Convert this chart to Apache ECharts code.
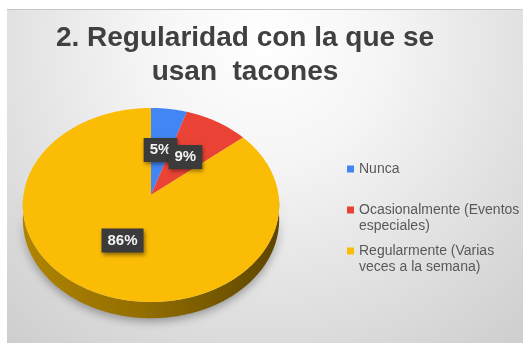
<!DOCTYPE html>
<html>
<head>
<meta charset="utf-8">
<script src="https://cdn.jsdelivr.net/npm/echarts@6/dist/echarts.min.js"></script>
<style>
  html, body { margin: 0; padding: 0; background: #ffffff; }
  #chart { width: 527px; height: 343px; }
</style>
</head>
<body>
<div id="chart"></div>
<script>
// Survey answers: how often high heels are worn
const categories = [
  'Nunca',
  'Ocasionalmente (Eventos\nespeciales)',
  'Regularmente (Varias\nveces a la semana)'
];
const shares = [5, 9, 86];
const sliceColors = ['#4285F4', '#EA4335', '#FBBC05'];
const titleText = '2. Regularidad con la que se\nusan  tacones';

const FONT = '"Liberation Sans", Arial, Helvetica, sans-serif';
const total = shares.reduce((s, v) => s + v, 0);

// Tilted disc seen with a little perspective: a/b are the half axes,
// p the perspective strength, depth the thickness of the rim.
const disc = { cx: 151, cy: 195, a: 127.5, b: 96, p: 0.103, depth: 14.5 };

function project(theta, f, drop) {
  const u = f * Math.sin(theta);
  const v = -f * Math.cos(theta);
  const k = 1 - disc.p * v;
  return [disc.cx + disc.a * u / k, disc.cy + (disc.b * v + (drop || 0)) / k];
}

function arcPoints(t0, t1, f, drop) {
  const pts = [];
  const n = Math.max(2, Math.ceil((t1 - t0) / (Math.PI / 360)));
  for (let i = 0; i <= n; i++) {
    pts.push(project(t0 + (t1 - t0) * i / n, f, drop));
  }
  return pts;
}

function makeRenderer(idx) {
  return function (params, api) {
    const value = api.value(0);
    const before = shares.slice(0, idx).reduce((s, v) => s + v, 0);
    const t0 = before / total * Math.PI * 2;
    const t1 = (before + value) / total * Math.PI * 2;
    const children = [];

    // visible rim: the front half of the disc
    const s0 = Math.max(t0, Math.PI / 2);
    const s1 = Math.min(t1, Math.PI * 3 / 2);
    if (s1 > s0) {
      const topEdge = arcPoints(s0, s1, 1, 0);
      const bottomEdge = arcPoints(s0, s1, 1, disc.depth).reverse();
      children.push({
        type: 'polygon',
        z2: 1,
        shape: { points: topEdge.concat(bottomEdge) },
        style: {
          fill: new echarts.graphic.LinearGradient(
            disc.cx - disc.a, 0, disc.cx + disc.a, 0,
            [
              { offset: 0, color: '#b08400' },
              { offset: 0.45, color: '#946f00' },
              { offset: 1, color: '#5e4600' }
            ],
            true
          ),
          shadowBlur: 10,
          shadowColor: 'rgba(0,0,0,0.35)',
          shadowOffsetY: 3
        }
      });
    }

    // top face of the slice
    children.push({
      type: 'polygon',
      z2: 2,
      shape: { points: [project(0, 0, 0)].concat(arcPoints(t0, t1, 1, 0)) },
      style: { fill: sliceColors[idx] }
    });

    // percentage label in a dark box
    const mid = (t0 + t1) / 2;
    const pos = project(mid, 0.5, 0);
    children.push({
      type: 'text',
      z2: 10 + idx,
      x: pos[0],
      y: pos[1],
      style: {
        text: Math.round(value / total * 100) + '%',
        fill: '#f4f4f4',
        font: 'bold 15px ' + FONT,
        align: 'center',
        verticalAlign: 'middle',
        backgroundColor: '#3b3b3b',
        padding: [4, 6, 3, 6],
        lineHeight: 17,
        shadowBlur: 4,
        shadowColor: 'rgba(0,0,0,0.45)',
        shadowOffsetX: 1,
        shadowOffsetY: 2
      }
    });

    return { type: 'group', children: children };
  };
}

const chart = echarts.init(document.getElementById('chart'), null, { renderer: 'canvas' });

chart.setOption({
  animation: false,
  backgroundColor: '#ffffff',
  graphic: [
    {
      type: 'rect',
      z: -10,
      silent: true,
      shape: { x: 7, y: 9, width: 516, height: 334 },
      style: {
        fill: new echarts.graphic.RadialGradient(0.5, 0.1, 1.2, [
          { offset: 0, color: '#ffffff' },
          { offset: 0.3, color: '#f5f5f5' },
          { offset: 1, color: '#cdcdcd' }
        ])
      }
    },
    {
      type: 'line',
      z: -9,
      silent: true,
      shape: { x1: 7, y1: 9.5, x2: 522, y2: 9.5 },
      style: { stroke: '#c8c8c8', lineWidth: 1 }
    }
  ],
  title: {
    text: titleText,
    left: 245,
    top: 21,
    padding: 0,
    textAlign: 'center',
    textStyle: {
      fontFamily: FONT,
      fontSize: 28,
      fontWeight: 'bold',
      color: '#404040',
      lineHeight: 34
    }
  },
  legend: {
    orient: 'vertical',
    left: 347,
    top: 145,
    padding: 0,
    icon: 'rect',
    itemWidth: 7,
    itemHeight: 7,
    itemGap: -7,
    selectedMode: false,
    data: categories,
    // three text rows per entry so the marker sits beside the first line
    formatter: function (name) {
      return name.indexOf('\n') < 0 ? '\n' + name + '\n' : '\n' + name;
    },
    textStyle: {
      fontFamily: FONT,
      fontSize: 14,
      color: '#595959',
      lineHeight: 16
    }
  },
  series: categories.map(function (name, i) {
    return {
      type: 'custom',
      name: name,
      coordinateSystem: 'none',
      silent: true,
      itemStyle: { color: sliceColors[i] },
      renderItem: makeRenderer(i),
      data: [[shares[i]]]
    };
  })
});
</script>
</body>
</html>
